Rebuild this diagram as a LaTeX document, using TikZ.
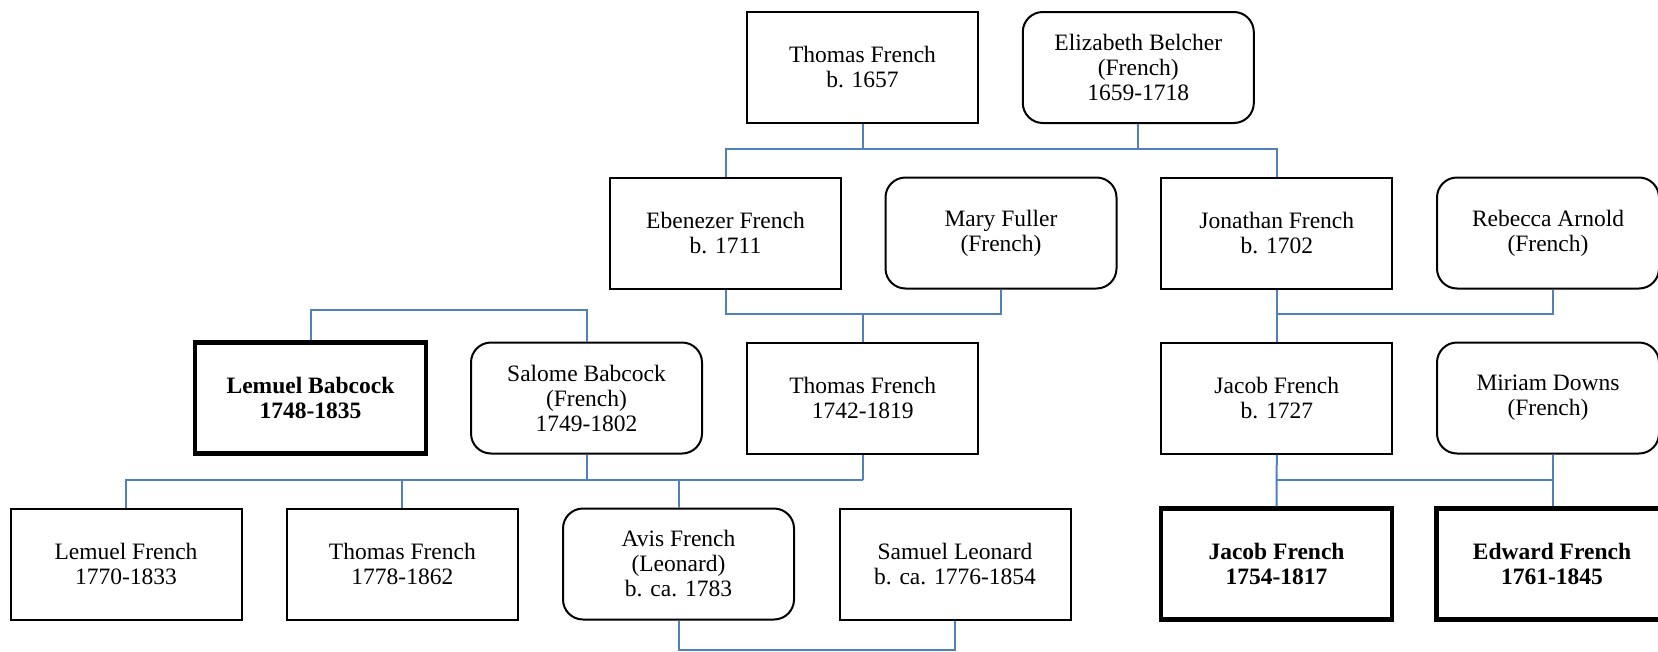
\documentclass[tikz,border=0pt]{standalone}
\usepackage{fontspec}
\setmainfont{Liberation Serif}
\definecolor{conn}{RGB}{79,129,189}
\begin{document}
\begin{tikzpicture}[x=1pt,y=-1pt,
  person/.style={draw=black,line width=2pt,minimum width=231pt,minimum height=111pt,inner sep=0pt,align=center,font=\fontsize{23.5}{25}\selectfont},
  spouse/.style={person,rounded corners=20pt},
  focus/.style={person,line width=4.5pt,font=\fontsize{23.5}{25}\selectfont\bfseries},
  link/.style={draw=conn,line width=2pt}]
\useasboundingbox (0,0) rectangle (1658,651);
\clip (0,0) rectangle (1658,651);
% row 1
\node[person] (tf1) at (862.5,67.5) {Thomas French\\b. 1657};
\node[spouse] (eli) at (1138.3,67.5) {Elizabeth Belcher\\(French)\\1659-1718};
% row 2
\node[person] (ebe) at (725.5,233) {Ebenezer French\\b. 1711};
\node[spouse] (mar) at (1001,233) {Mary Fuller\\(French)};
\node[person] (jon) at (1276.8,233) {Jonathan French\\b. 1702};
\node[spouse,minimum width=222pt] (reb) at (1548,233) {Rebecca Arnold\\(French)};
% row 3
\node[focus] (lba) at (310.5,398) {Lemuel Babcock\\1748-1835};
\node[spouse] (sal) at (586.5,398) {Salome Babcock\\(French)\\1749-1802};
\node[person] (tf2) at (862.7,398) {Thomas French\\1742-1819};
\node[person] (ja1) at (1276.8,398) {Jacob French\\b. 1727};
\node[spouse,minimum width=222pt] (mir) at (1548,398) {Miriam Downs\\(French)};
% row 4
\node[person] (lfr) at (126,564) {Lemuel French\\1770-1833};
\node[person] (tf3) at (402.4,564) {Thomas French\\1778-1862};
\node[spouse] (avi) at (678.5,564) {Avis French\\(Leonard)\\b. ca. 1783};
\node[person] (sam) at (955,564) {Samuel Leonard\\b. ca. 1776-1854};
\node[focus] (ja2) at (1276.5,564) {Jacob French\\1754-1817};
\node[focus] (edw) at (1552,564) {Edward French\\1761-1845};
% bus levels
\coordinate (b1) at (0,149);
\coordinate (b2) at (0,314);
\coordinate (b3) at (0,310);
\coordinate (b4) at (0,480);
\coordinate (b5) at (0,650);
\coordinate (rb) at ([xshift=5pt]reb.south);
\coordinate (mr) at ([xshift=5pt]mir.south);
% connectors
\draw[link] (tf1.south) -- (tf1.south |- b1);
\draw[link] (eli.south) -- (eli.south |- b1);
\draw[link] (ebe.north) -- (ebe.north |- b1) -- (jon.north |- b1) -- (jon.north);
\draw[link] (ebe.south) -- (ebe.south |- b2) -- (mar.south |- b2) -- (mar.south);
\draw[link] (tf2.north) -- (tf2.north |- b2);
\draw[link] (jon.south) -- (ja1.north);
\draw[link] (jon.south |- b2) -- (rb |- b2) -- (rb);
\draw[link] (lba.north) -- (lba.north |- b3) -- (sal.north |- b3) -- (sal.north);
\draw[link] (sal.south) -- (sal.south |- b4);
\draw[link] (tf2.south) -- (tf2.south |- b4);
\draw[link] (lfr.north) -- (lfr.north |- b4) -- (tf2.south |- b4);
\draw[link] (tf3.north) -- (tf3.north |- b4);
\draw[link] (avi.north) -- (avi.north |- b4);
\draw[link] (ja1.south) -- (ja2.north);
\draw[link] (mr) -- (mr |- edw.north);
\draw[link] (ja1.south |- b4) -- (mr |- b4);
\draw[link] (avi.south) -- (avi.south |- b5) -- (sam.south |- b5) -- (sam.south);
\end{tikzpicture}
\end{document}
